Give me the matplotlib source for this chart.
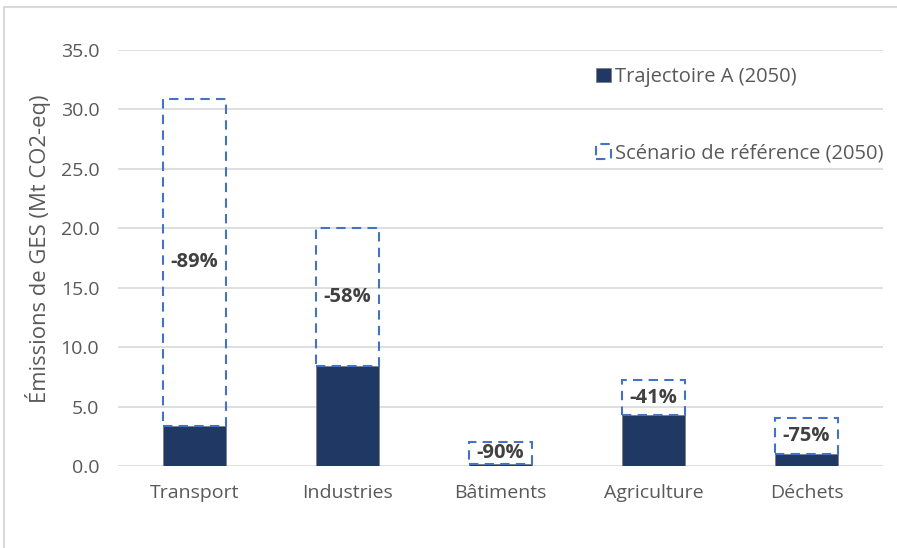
import matplotlib.pyplot as plt
from matplotlib.patches import Rectangle
from matplotlib.ticker import FormatStrFormatter

plt.rcParams['font.family'] = ['Open Sans', 'DejaVu Sans']

# Data setup
sectors = ['Transport', 'Industries', 'Bâtiments', 'Agriculture', 'Déchets']
trajectoire_a = [3.4, 8.4, 0.2, 4.3, 1.0]
reference = [30.9, 20.0, 2.0, 7.2, 4.0]
reduction_labels = ['-89%', '-58%', '-90%', '-41%', '-75%']

navy = '#203864'
blue = '#4472C4'
text_grey = '#595959'

fig = plt.figure(figsize=(8.97, 5.48), dpi=100)
ax = fig.add_axes([118 / 897, 82 / 548, 765 / 897, 416 / 548])

x = range(len(sectors))
width = 0.41

# Solid bars for the pathway, dashed boxes stacked on top up to the reference
ax.bar(x, trajectoire_a, width=width, color=navy, edgecolor='#7f7f7f',
       linewidth=0.6, label='Trajectoire A (2050)', zorder=2)
gap = [r - t for r, t in zip(reference, trajectoire_a)]
ax.bar(x, gap, bottom=trajectoire_a, width=width, facecolor='none',
       edgecolor=blue, linestyle=(0, (4.5, 3)), linewidth=1.5,
       label='Scénario de référence (2050)', zorder=3)

for i, lab in enumerate(reduction_labels):
    mid = (reference[i] + trajectoire_a[i]) / 2
    ax.text(i, mid, lab, ha='center', va='center', fontsize=14.5,
            fontweight='bold', color='#404040', zorder=4)

ax.set_xlim(-0.5, len(sectors) - 0.5)
ax.set_ylim(0, 35)
ax.set_yticks([0, 5, 10, 15, 20, 25, 30, 35])
ax.yaxis.set_major_formatter(FormatStrFormatter('%.1f'))
ax.set_xticks(list(x))
ax.set_xticklabels(sectors)
ax.tick_params(axis='both', length=0, labelsize=14, labelcolor=text_grey)
ax.tick_params(axis='x', pad=13)
ax.tick_params(axis='y', pad=13.5)
for s in ax.spines.values():
    s.set_visible(False)
ax.grid(True, axis='y', color='#d9d9d9', linewidth=1.2, zorder=0)
ax.set_axisbelow(True)

ax.set_ylabel('Émissions de GES (Mt CO2-eq)', fontsize=15.8, color=text_grey)
ax.yaxis.set_label_coords(-0.0876, 0.522)

leg = ax.legend(loc='upper left', bbox_to_anchor=(0.625, 0.959), frameon=False,
                fontsize=14.5, labelspacing=2.8, handlelength=0.75,
                handleheight=0.75, handletextpad=0.2, borderpad=0,
                borderaxespad=0, labelcolor=text_grey)

# Light chart border
fig.patches.append(Rectangle((4 / 897, -0.1), 2, (548 - 7) / 548 + 0.1,
                             transform=fig.transFigure, fill=False,
                             edgecolor='#d9d9d9', linewidth=1.5))

fig.savefig('out.png', dpi=100)
